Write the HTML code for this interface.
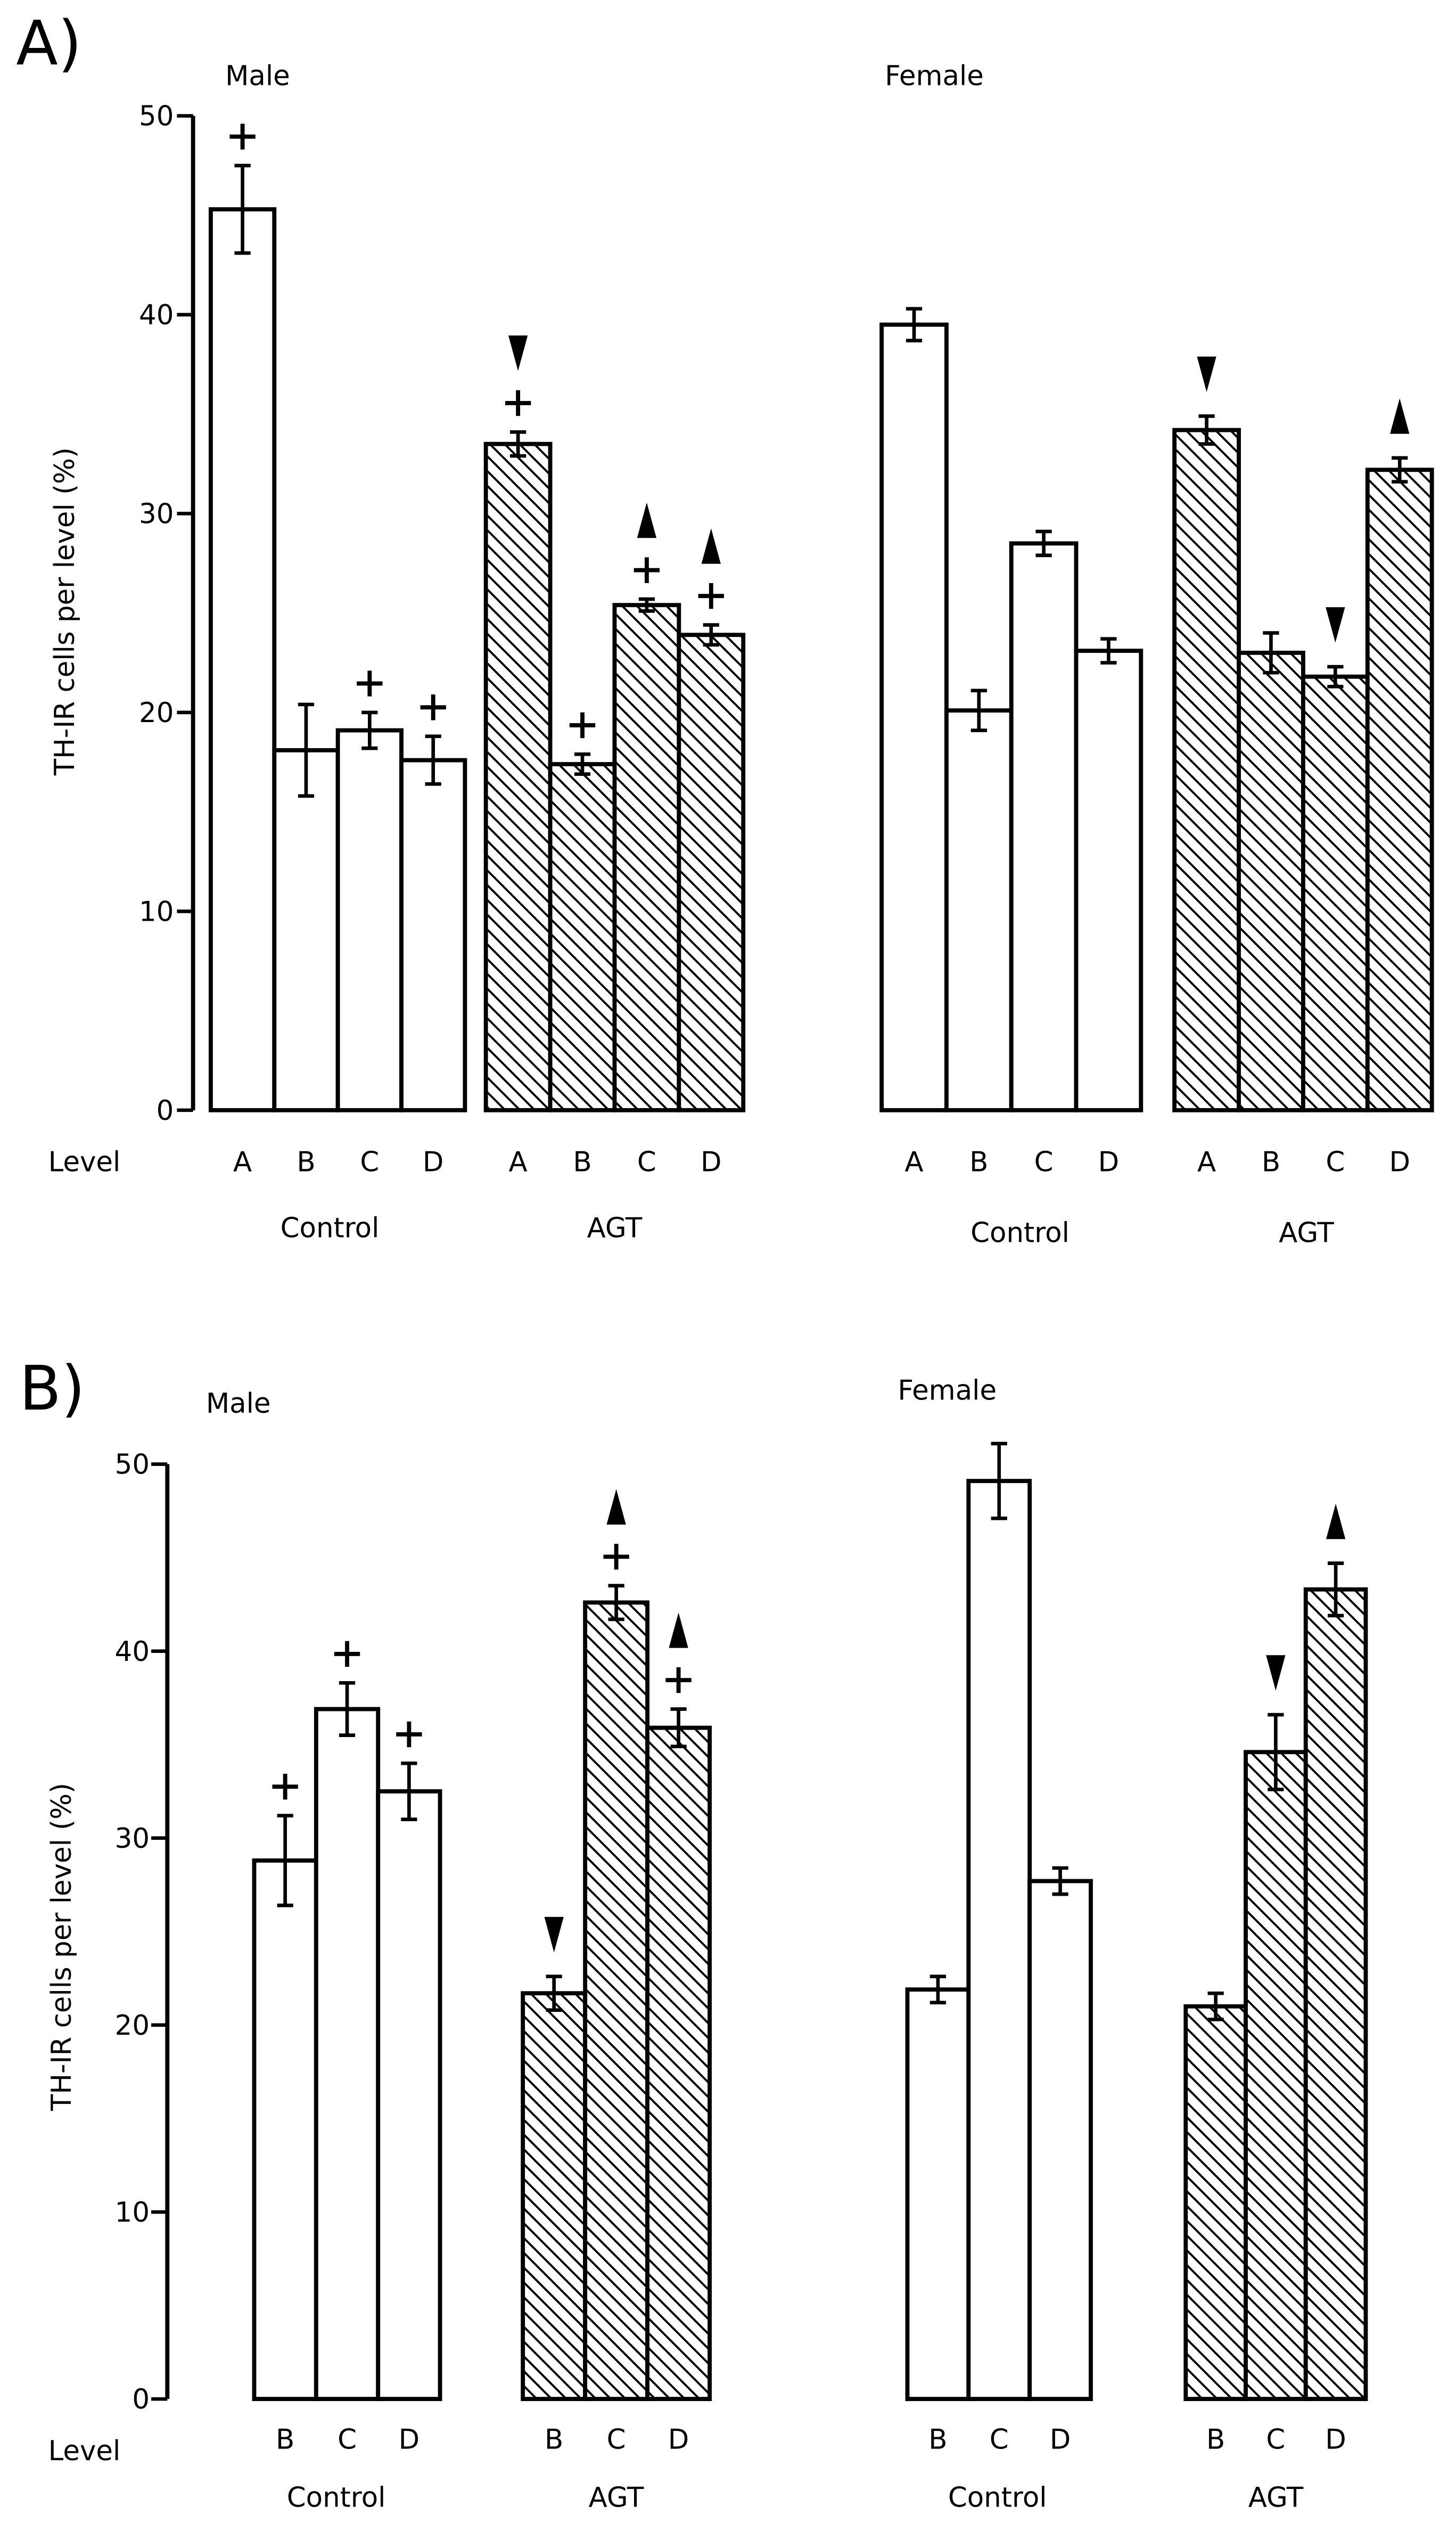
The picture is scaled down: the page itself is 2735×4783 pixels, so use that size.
<!DOCTYPE html>
<html><head><meta charset="utf-8"><style>
html,body{margin:0;padding:0;background:#fff;}
svg{display:block;}
text{font-family:"DejaVu Sans","Liberation Sans",sans-serif;fill:#000;}
</style></head><body>
<svg id="fig" width="2735" height="4783" viewBox="0 0 905 1583" preserveAspectRatio="none" xmlns="http://www.w3.org/2000/svg">
<defs>
<pattern id="hatch" patternUnits="userSpaceOnUse" width="6.5" height="6.5" patternTransform="rotate(-45)">
<rect width="6.5" height="6.5" fill="#fff"/>
<line x1="0" y1="0" x2="0" y2="6.5" stroke="#000" stroke-width="2.6"/>
</pattern>
</defs>
<g id="layer"></g>
</svg>
<script>
// ---- data (panel A) ----
const levelsA = ["A","B","C","D"];
const levelsB = ["B","C","D"];
const yTicks = [0,10,20,30,40,50];
const maleA_ctrl = [45.3,18.1,19.1,17.6];
const maleA_ctrl_err = [2.2,2.3,0.9,1.2];
const maleA_agt = [33.5,17.4,25.4,23.9];
const maleA_agt_err = [0.6,0.5,0.3,0.5];
const femaleA_ctrl = [39.5,20.1,28.5,23.1];
const femaleA_ctrl_err = [0.8,1.0,0.6,0.6];
const femaleA_agt = [34.2,23.0,21.8,32.2];
const femaleA_agt_err = [0.7,1.0,0.5,0.6];
const maleA_ctrl_mk = ["+","","+","+"];
const maleA_agt_mk = ["v+","+","^+","^+"];
const femaleA_ctrl_mk = ["","","",""];
const femaleA_agt_mk = ["v","","v","^"];
// ---- data (panel B) ----
const maleB_ctrl = [28.8,36.9,32.5];
const maleB_ctrl_err = [2.4,1.4,1.5];
const maleB_agt = [21.7,42.6,35.9];
const maleB_agt_err = [0.9,0.9,1.0];
const femaleB_ctrl = [21.9,49.1,27.7];
const femaleB_ctrl_err = [0.7,2.0,0.7];
const femaleB_agt = [21.0,34.6,43.3];
const femaleB_agt_err = [0.7,2.0,1.4];
const maleB_ctrl_mk = ["+","+","+"];
const maleB_agt_mk = ["v","^+","^+"];
const femaleB_ctrl_mk = ["","",""];
const femaleB_agt_mk = ["","v","^"];

const NS="http://www.w3.org/2000/svg";
const layer=document.getElementById('layer');
function mk(tag,attrs,parent){const e=document.createElementNS(NS,tag);for(const k in attrs)e.setAttribute(k,attrs[k]);(parent||layer).appendChild(e);return e;}
function txt(x,y,s,size,anchor,parent){const t=mk('text',{x:x,y:y,'font-size':size,'text-anchor':anchor||'middle'},parent);t.textContent=s;return t;}

function yScale(y0,y50){return v=>y0+(y50-y0)*v/50;}

function group(g,sy,x0,w,vals,errs,marks,hatch,labels,labelY){
  vals.forEach((v,i)=>{
    const x=x0+i*w, yt=sy(v), yb=sy(0);
    const r=mk('rect',{x:x,y:yt,width:w,height:yb-yt,fill:hatch?'url(#hatch)':'#fff',stroke:'#000','stroke-width':2.6},g);
    
    
    const cx=x+w/2, e1=sy(v+errs[i]), e2=sy(v-errs[i]);
    const eb=mk('path',{d:`M${cx},${e1}V${e2}M${cx-5},${e1}H${cx+5}M${cx-5},${e2}H${cx+5}`,stroke:'#000','stroke-width':2.2,fill:'none'},g);
    
    
    const m=marks[i]; let top=e1;
    if(m.includes('+')){
      const py=top-18;
      const p=mk('path',{d:`M${cx-8},${py}H${cx+8}M${cx},${py-8}V${py+8}`,stroke:'#000','stroke-width':2.6},g);
      
      
      top=py-9;
    }
    if(m.includes('v')||m.includes('^')){
      const ty=top-(m.includes('+')?22:26);
      const d=m.includes('v')?`M${cx-6},${ty-11}L${cx+6},${ty-11}L${cx},${ty+11}Z`:`M${cx-6},${ty+11}L${cx+6},${ty+11}L${cx},${ty-11}Z`;
      const t=mk('path',{d:d,fill:'#000'},g);
      
      
    }
    const lt=txt(cx,labelY,labels[i],17,'middle',g);
    
    
  });
}

function yAxis(g,x,sy,labelX,ylabX,ylabY){
  const ax=mk('line',{x1:x,y1:sy(50),x2:x,y2:sy(0),stroke:'#000','stroke-width':2.6},g);
  
  
  yTicks.forEach(t=>{
    const tk=mk('line',{x1:x-10,y1:sy(t),x2:x,y2:sy(t),stroke:'#000','stroke-width':2.2},g);
    
    
    const tl=txt(labelX,sy(t)+6,String(t),17,'end',g);
    
    
  });
  const yl=mk('text',{x:0,y:0,'font-size':17,'text-anchor':'middle',transform:`translate(${ylabX},${ylabY}) rotate(-90)`},g);
  yl.textContent='TH-IR cells per level (%)';
  
  
}

function label(g,x,y,s,size,name,anchor){const t=txt(x,y,s,size,anchor||'middle',g);return t;}

// Panel A
const gA=mk('g',{});


label(gA,10,40,'A)',38,'panel-a-label','start');
const syA=yScale(690,72);
yAxis(gA,120,syA,108,46,380);
label(gA,140,53,'Male',17,'male-title','start');
label(gA,550,53,'Female',17,'female-title','start');
label(gA,30,728,'Level',17,'level-axis-title','start');
group(gA,syA,131,39.5,maleA_ctrl,maleA_ctrl_err,maleA_ctrl_mk,false,levelsA,728);
group(gA,syA,302,40,maleA_agt,maleA_agt_err,maleA_agt_mk,true,levelsA,728);
group(gA,syA,548,40.3,femaleA_ctrl,femaleA_ctrl_err,femaleA_ctrl_mk,false,levelsA,728);
group(gA,syA,730,40,femaleA_agt,femaleA_agt_err,femaleA_agt_mk,true,levelsA,728);
label(gA,205,769,'Control',17,'control-group-label');
label(gA,382,769,'AGT',17,'agt-group-label');
label(gA,634,772,'Control',17,'control-group-label');
label(gA,812,772,'AGT',17,'agt-group-label');

// Panel B
const gB=mk('g',{});


label(gB,12,876,'B)',38,'panel-b-label','start');
const syB=yScale(1491,910);
yAxis(gB,104,syB,93,44,1210);
label(gB,128,878,'Male',17,'male-title','start');
label(gB,558,870,'Female',17,'female-title','start');
label(gB,30,1529,'Level',17,'level-axis-title','start');
group(gB,syB,158,38.5,maleB_ctrl,maleB_ctrl_err,maleB_ctrl_mk,false,levelsB,1522);
group(gB,syB,325,38.7,maleB_agt,maleB_agt_err,maleB_agt_mk,true,levelsB,1522);
group(gB,syB,564,38,femaleB_ctrl,femaleB_ctrl_err,femaleB_ctrl_mk,false,levelsB,1522);
group(gB,syB,737,37.3,femaleB_agt,femaleB_agt_err,femaleB_agt_mk,true,levelsB,1522);
label(gB,209,1558,'Control',17,'control-group-label');
label(gB,383,1558,'AGT',17,'agt-group-label');
label(gB,620,1558,'Control',17,'control-group-label');
label(gB,793,1558,'AGT',17,'agt-group-label');
</script>
</body></html>
